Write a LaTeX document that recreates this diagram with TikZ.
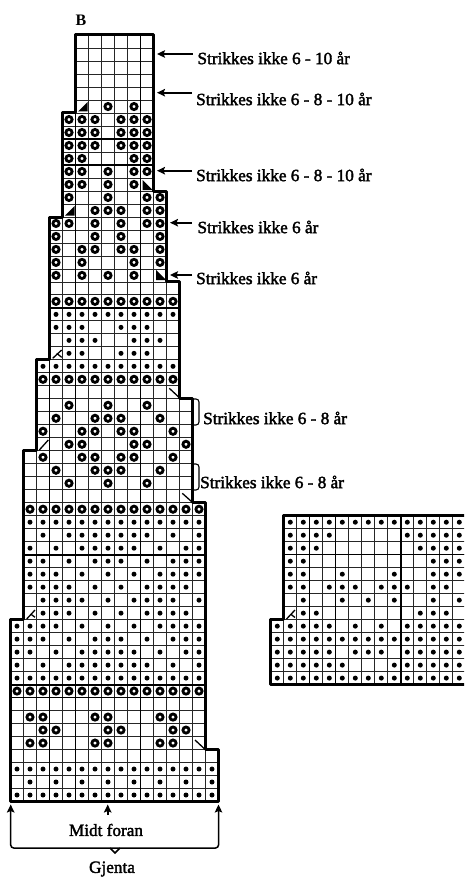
\documentclass[tikz,border=0pt]{standalone}
\usepackage{fontspec}
\usetikzlibrary{arrows.meta}
\setmainfont{Liberation Serif}
\newfontfamily\labfont{Liberation Serif}[FakeBold=2]
\newcommand\ringsrow[2]{\foreach \c in {#2}{\node[ringmark] at ({17+13*\c},{795-12.99*#1}) {};}}
\newcommand\dotsrow[2]{\foreach \c in {#2}{\node[dotmark] at ({17+13*\c},{795-12.99*#1}) {};}}
\newcommand\dotsrowB[2]{\foreach \c in {#2}{\node[dotmark] at ({277.3+13*\c},{795-12.99*(#1+9)}) {};}}
\tikzset{
 ringmark/.style={circle,draw=black,fill=white,line width=2.8pt,minimum size=6.2pt,inner sep=0pt},
 dotmark/.style={circle,fill=black,minimum size=5pt,inner sep=0pt},
 gridline/.style={draw=black!85,line width=0.8pt},
 midline/.style={draw=black,line width=1.1pt},
 heavyline/.style={draw=black,line width=1.9pt},
 outline/.style={draw=black,line width=3pt,line join=round},
 slashmark/.style={draw=black,line width=1.3pt},
 label/.style={font=\labfont\fontsize{17.2}{19}\selectfont,anchor=west,inner sep=0pt},
 tiplook/.style={-{Stealth[length=8pt,width=7.5pt,inset=1.5pt]}},
 pointer/.style={draw=black,line width=1.9pt,tiplook},
 brace/.style={draw=black,line width=1.1pt,rounded corners=3pt},
}
\begin{document}
\begin{tikzpicture}[x=1pt,y=-1pt]
\useasboundingbox (0,0) rectangle (464,880);
\clip (0,0) rectangle (464,880);
\fill[white] (0,0) rectangle (464,880);
% main chart: grid clipped to the outline
\begin{scope}
\clip (10.5,801.5) -- (218.5,801.5) -- (218.5,749.5) -- (205.5,749.5) -- (205.5,502.7) -- (192.5,502.7) -- (192.5,398.8) -- (179.5,398.8) -- (179.5,281.9) -- (166.5,281.9) -- (166.5,191) -- (153.5,191) -- (153.5,35) -- (75.5,35) -- (75.5,113) -- (62.5,113) -- (62.5,217) -- (49.5,217) -- (49.5,359.8) -- (36.5,359.8) -- (36.5,450.8) -- (23.5,450.8) -- (23.5,619.6) -- (10.5,619.6) -- cycle;
\foreach \i in {1,...,15}{\draw[gridline] ({10.5+13*\i},30) -- ({10.5+13*\i},805);}
\foreach \i in {1,...,58}{\draw[gridline] (5,{801.5-12.99*\i}) -- (225,{801.5-12.99*\i});}
\foreach \i in {3,5}{\draw[midline] ({10.5+13*\i},30) -- ({10.5+13*\i},805);}
\draw[heavyline] (140.5,30) -- (140.5,805);
\foreach \i in {8,49,51}{\draw[midline] (5,{801.5-12.99*\i}) -- (225,{801.5-12.99*\i});}
\foreach \i in {9,19,38}{\draw[heavyline] (5,{801.5-12.99*\i}) -- (225,{801.5-12.99*\i});}
\end{scope}
% marks main chart
\dotsrow{0}{0,...,15}
\dotsrow{1}{1,3,5,7,9,11,13,15}
\dotsrow{2}{0,...,15}
\ringsrow{4}{1,2,6,7,11,12}
\ringsrow{5}{2,3,7,8,12,13}
\ringsrow{6}{1,2,6,7,11,12}
\ringsrow{8}{0,...,14}
\dotsrow{9}{0,...,14}
\dotsrow{10}{0,2,4,5,6,7,8,9,10,12,14}
\dotsrow{11}{0,1,3,5,6,7,8,9,11,13,14}
\dotsrow{12}{0,1,2,4,6,7,8,10,12,13,14}
\dotsrow{13}{0,1,2,3,5,7,9,11,12,13,14}
\dotsrow{14}{2,3,4,6,8,10,11,12,13}
\dotsrow{15}{2,3,4,5,7,9,10,11,12,14}
\dotsrow{16}{1,2,3,4,6,8,10,11,12,13}
\dotsrow{17}{1,2,3,5,7,9,11,12,13,14}
\dotsrow{18}{1,2,4,6,7,8,10,12,13,14}
\dotsrow{19}{1,3,5,6,7,8,9,11,13,14}
\dotsrow{20}{2,4,5,6,7,8,9,10,12,14}
\dotsrow{21}{1,...,14}
\ringsrow{22}{1,...,14}
\ringsrow{24}{4,7,10}
\ringsrow{25}{3,6,7,8,11}
\ringsrow{26}{2,5,6,8,9,12}
\ringsrow{27}{4,5,9,10,13}
\ringsrow{28}{2,5,6,8,9,12}
\ringsrow{29}{3,6,7,8,11}
\ringsrow{30}{4,7,10}
\ringsrow{32}{2,...,12}
\dotsrow{33}{2,...,12}
\dotsrow{34}{4,5,8,9,10}
\dotsrow{35}{4,5,6,9,10,11}
\dotsrow{36}{3,4,5,8,9,10}
\dotsrow{37}{3,...,12}
\ringsrow{38}{3,...,12}
\ringsrow{40}{3,5,7,9}
\ringsrow{41}{3,5,9,11}
\ringsrow{42}{3,5,6,8,9,11}
\ringsrow{43}{3,6,8,11}
\ringsrow{44}{3,4,6,8,10,11}
\ringsrow{45}{6,7,8,10,11}
\ringsrow{46}{4,7,10,11}
\ringsrow{47}{4,5,7,9}
\ringsrow{48}{4,5,7,9,10}
\ringsrow{49}{4,5,9,10}
\ringsrow{50}{4,5,6,8,9,10}
\ringsrow{51}{4,5,6,8,9,10}
\ringsrow{52}{4,5,6,8,9,10}
\ringsrow{53}{7,9}
% black triangles
\fill (78,111.5) -- (87.5,111.5) -- (87.5,102) -- cycle;
\fill (65,215.5) -- (74.5,215.5) -- (74.5,206) -- cycle;
\fill (142.5,180) -- (142.5,190) -- (152.5,190) -- cycle;
\fill (156,270) -- (156,280) -- (166,280) -- cycle;
% slash marks
\draw[slashmark] (52.7,358.3) -- (61.7,350) (56.7,353.3) -- (61.7,357.3);
\draw[slashmark] (26.7,619) -- (35,610) (30.7,614) -- (35,617.3);
\draw[slashmark] (39.3,450) -- (48.3,440);
\draw[slashmark] (169.3,388.3) -- (179,397.3);
\draw[slashmark] (182.3,493.3) -- (191.7,501.7);
\draw[slashmark] (195,740) -- (205,749.3);
\draw[outline] (10.5,801.5) -- (218.5,801.5) -- (218.5,749.5) -- (205.5,749.5) -- (205.5,502.7) -- (192.5,502.7) -- (192.5,398.8) -- (179.5,398.8) -- (179.5,281.9) -- (166.5,281.9) -- (166.5,191) -- (153.5,191) -- (153.5,35) -- (75.5,35) -- (75.5,113) -- (62.5,113) -- (62.5,217) -- (49.5,217) -- (49.5,359.8) -- (36.5,359.8) -- (36.5,450.8) -- (23.5,450.8) -- (23.5,619.6) -- (10.5,619.6) -- cycle;
% second chart
\begin{scope}
\clip (270.8,684.5) -- (480,684.5) -- (480,515.5) -- (283.8,515.5) -- (283.8,619.5) -- (270.8,619.5) -- cycle;
\foreach \i in {1,...,15}{\draw[gridline] ({270.8+13*\i},510) -- ({270.8+13*\i},690);}
\foreach \i in {1,...,12}{\draw[gridline] (265,{684.5-13*\i}) -- (480,{684.5-13*\i});}
\foreach \i in {3,5}{\draw[midline] ({270.8+13*\i},510) -- ({270.8+13*\i},690);}
\draw[heavyline] (400.8,510) -- (400.8,690);
\draw[heavyline] (265,554.5) -- (480,554.5);
\end{scope}
\dotsrowB{0}{0,...,14}
\dotsrowB{1}{0,1,2,3,4,5,9,10,11,12,13,14}
\dotsrowB{2}{0,1,2,3,4,6,7,8,10,11,12,13,14}
\dotsrowB{3}{0,...,14}
\dotsrowB{4}{0,1,2,3,4,6,8,10,11,12,13,14}
\dotsrowB{5}{2,3,11,12,13}
\dotsrowB{6}{2,5,7,9,12,14}
\dotsrowB{7}{1,2,4,5,6,8,9,10,12,13}
\dotsrowB{8}{1,2,5,9,12,13,14}
\dotsrowB{9}{1,2,12,13,14}
\dotsrowB{10}{1,2,3,11,12,13,14}
\dotsrowB{11}{1,2,3,4,10,11,12,13,14}
\dotsrowB{12}{1,...,14}
\draw[slashmark] (286.5,619) -- (295,610) (290.5,614) -- (295,617.5);
\draw[outline] (480,684.5) -- (270.8,684.5) -- (270.8,619.5) -- (283.8,619.5) -- (283.8,515.5) -- (480,515.5);
% labels
\node[font=\bfseries\fontsize{16}{18}\selectfont,inner sep=0pt] (lblB) at (81,20.5) {B};
\node[label] (l1) at (197.3,58) {Strikkes ikke 6 - 10 år};
\node[label] (l2) at (196,99) {Strikkes ikke 6 - 8 - 10 år};
\node[label] (l3) at (196,175) {Strikkes ikke 6 - 8 - 10 år};
\node[label] (l4) at (197.3,227) {Strikkes ikke 6 år};
\node[label] (l5) at (196,278) {Strikkes ikke 6 år};
\node[label] (l6) at (203,418) {Strikkes ikke 6 - 8 år};
\node[label] (l7) at (200,482) {Strikkes ikke 6 - 8 år};
\node[font=\labfont\fontsize{17.2}{19}\selectfont,inner sep=0pt] (midt) at (106,830) {Midt foran};
\node[font=\labfont\fontsize{17.2}{19}\selectfont,inner sep=0pt] (gjenta) at (112,869) {Gjenta};
% pointers
\coordinate (p1) at (157,54); \coordinate (q1) at (192.5,54);
\coordinate (p2) at (157,92.7); \coordinate (q2) at (192,92.7);
\coordinate (p3) at (157,170.7); \coordinate (q3) at (192,170.7);
\coordinate (p4) at (170,222.7); \coordinate (q4) at (192,222.7);
\coordinate (p5) at (170,275); \coordinate (q5) at (192,275);
\foreach \k in {1,...,5}{\draw[pointer] (q\k) -- (p\k);}
% braces on the right
\coordinate (b1a) at (192.5,399); \coordinate (b1b) at (199,399); \coordinate (b1c) at (199,425); \coordinate (b1d) at (192.5,425);
\draw[brace] (b1a) -- (b1b) -- (b1c) -- (b1d);
\coordinate (b2a) at (192.5,464); \coordinate (b2b) at (199,464); \coordinate (b2c) at (199,490); \coordinate (b2d) at (192.5,490);
\draw[brace] (b2a) -- (b2b) -- (b2c) -- (b2d);
% bottom
\coordinate (al) at (10.7,804.5); \coordinate (ar) at (218.5,804.5); \coordinate (am) at (107.7,804.5); \coordinate (ams) at (107.7,815);
\draw[draw=black,line width=1.5pt,{Stealth[length=8pt,width=7.5pt,inset=1.5pt]}-{Stealth[length=8pt,width=7.5pt,inset=1.5pt]},rounded corners=3pt] (al) -- (10.7,848) -- (218.5,848) -- (ar);
\draw[pointer] (ams) -- (am);
\draw[line width=1.5pt,draw=black] (110,848) -- (115,853) -- (120,848);
\end{tikzpicture}
\end{document}
